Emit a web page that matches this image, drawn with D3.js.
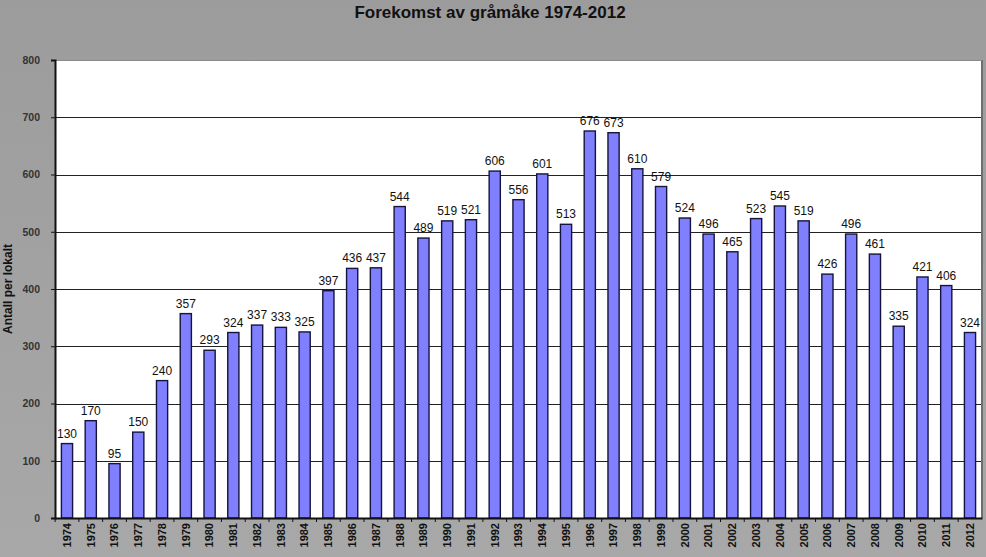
<!DOCTYPE html>
<html><head><meta charset="utf-8">
<script src="https://cdn.jsdelivr.net/npm/d3@7"></script>
<style>html,body{margin:0;padding:0;background:#a4a4a4;}svg{display:block;}</style>
</head><body>
<svg id="chart" width="986" height="557"></svg>
<script>
const titleText = "Forekomst av gråmåke 1974-2012";
const yLabel = "Antall per lokalt";
const years = ["1974","1975","1976","1977","1978","1979","1980","1981","1982","1983","1984","1985","1986","1987","1988","1989","1990","1991","1992","1993","1994","1995","1996","1997","1998","1999","2000","2001","2002","2003","2004","2005","2006","2007","2008","2009","2010","2011","2012"];
const counts = [130,170,95,150,240,357,293,324,337,333,325,397,436,437,544,489,519,521,606,556,601,513,676,673,610,579,524,496,465,523,545,519,426,496,461,335,421,406,324];
const yTicks = [0,100,200,300,400,500,600,700,800];

const svg = d3.select("#chart");
const W = 986, H = 557;
const m = {left:55, right:4, top:60, bottom:39};
const x = d3.scaleBand().domain(years).range([m.left, W - m.right]).paddingInner(0.53).paddingOuter(0.27);
const y = d3.scaleLinear().domain([0,800]).range([H - m.bottom, m.top]);

// background
svg.append("rect").attr("width",W).attr("height",H).attr("fill","#a4a4a4");
const defs = svg.append("defs");
const g1 = defs.append("linearGradient").attr("id","bg").attr("x1",0).attr("y1",0).attr("x2",0).attr("y2",1);
g1.append("stop").attr("offset","0").attr("stop-color","#9c9c9c");
g1.append("stop").attr("offset","1").attr("stop-color","#a8a8a8");
svg.append("rect").attr("width",W).attr("height",H).attr("fill","url(#bg)");

// plot area
svg.append("rect").attr("x",m.left).attr("y",m.top).attr("width",W-m.right-m.left-1).attr("height",H-m.bottom-m.top).attr("fill","#ffffff");
// right shadow
svg.append("rect").attr("x",W-m.right-1).attr("y",m.top).attr("width",2).attr("height",H-m.bottom-m.top).attr("fill","#6e6e6e");
svg.append("line").attr("x1",m.left).attr("x2",W-m.right).attr("y1",m.top+0.5).attr("y2",m.top+0.5).attr("stroke","#8a8a8a").attr("stroke-width",1);

// grid
svg.append("g").selectAll("line").data(yTicks.filter(t=>t>0 && t<800)).join("line")
  .attr("x1",m.left).attr("x2",W-m.right-1)
  .attr("y1",d=>Math.round(y(d))+0.5).attr("y2",d=>Math.round(y(d))+0.5)
  .attr("stroke","#222").attr("stroke-width",1);

// bars
svg.append("g").selectAll("rect").data(counts).join("rect")
  .attr("x",(d,i)=>x(years[i]))
  .attr("y",d=>y(d))
  .attr("width",x.bandwidth())
  .attr("height",d=>y(0)-y(d))
  .attr("fill","#8080ff").attr("stroke","#14143c").attr("stroke-width",1.4);

// labels
svg.append("g").selectAll("text").data(counts).join("text")
  .attr("x",(d,i)=>x(years[i])+x.bandwidth()/2)
  .attr("y",d=>y(d)-6)
  .attr("text-anchor","middle")
  .attr("font-family","Liberation Sans, Arial, sans-serif")
  .attr("font-size",12).attr("fill","#111")
  .text(d=>d);

// y axis
const ya = svg.append("g").attr("transform",`translate(${m.left},0)`)
  .call(d3.axisLeft(y).tickValues(yTicks).tickSize(4).tickPadding(11).tickFormat(d3.format("d")));
ya.select(".domain").attr("stroke","#111").attr("stroke-width",2);
ya.selectAll(".tick line").attr("stroke","#111");
ya.selectAll("text").attr("font-family","Liberation Sans, Arial, sans-serif").attr("font-size",10.5).attr("font-weight","bold").attr("fill","#333");

// x axis
const xa = svg.append("g").attr("transform",`translate(0,${H-m.bottom})`)
  .call(d3.axisBottom(x).tickSize(0).tickPadding(0));
xa.select(".domain").attr("stroke","#111").attr("stroke-width",2);
xa.selectAll("text")
  .attr("font-family","Liberation Sans, Arial, sans-serif").attr("font-size",11).attr("font-weight","bold").attr("fill","#111")
  .attr("transform","rotate(-90)").attr("text-anchor","end").attr("dy","0.35em").attr("x",-5).attr("y",0);
// small tick marks between categories
const step = x.step();
svg.append("g").selectAll("line").data(years).join("line")
  .attr("x1",(d)=>x(d)-step*0.265).attr("x2",(d)=>x(d)-step*0.265)
  .attr("y1",H-m.bottom).attr("y2",H-m.bottom+4).attr("stroke","#111");

// title
svg.append("text").attr("x",490).attr("y",18).attr("text-anchor","middle")
  .attr("font-family","Liberation Sans, Arial, sans-serif").attr("font-size",17).attr("font-weight","bold").attr("fill","#111")
  .text(titleText);

// y label
svg.append("text").attr("transform",`translate(12,${(m.top + H - m.bottom)/2}) rotate(-90)`)
  .attr("text-anchor","middle")
  .attr("font-family","Liberation Sans, Arial, sans-serif").attr("font-size",12).attr("font-weight","bold").attr("fill","#111")
  .text(yLabel);
</script>
</body></html>
